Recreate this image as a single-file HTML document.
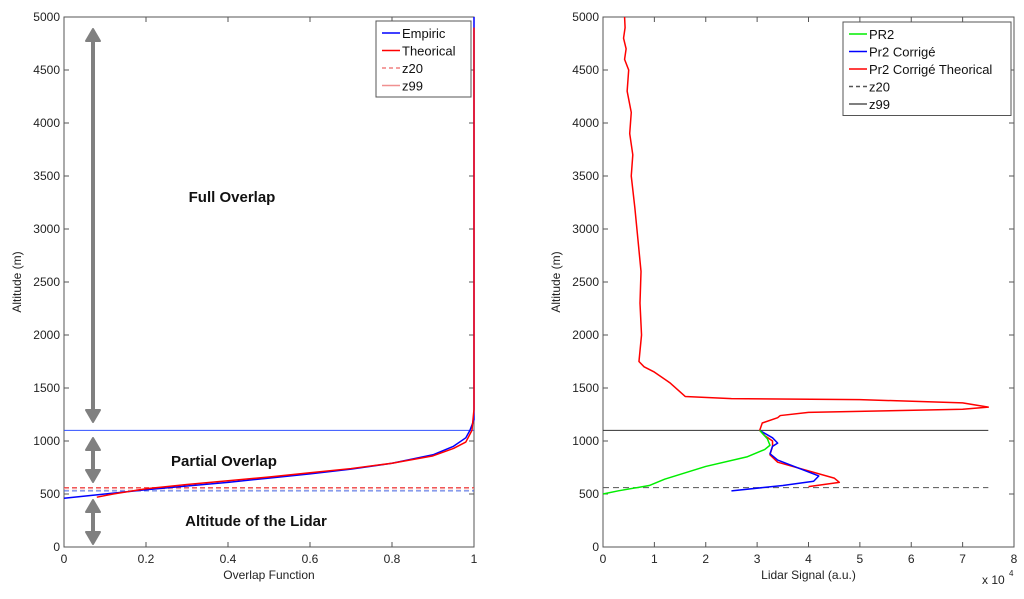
<!DOCTYPE html>
<html><head><meta charset="utf-8"><style>
body{margin:0;background:#fff;font-family:"Liberation Sans",sans-serif;}
svg text{font-family:"Liberation Sans",sans-serif;}
</style></head><body>
<svg id="c" width="1024" height="594" xmlns="http://www.w3.org/2000/svg"></svg>
<script>
const altTicks=[0,500,1000,1500,2000,2500,3000,3500,4000,4500,5000];
const leftXTicks=[0,0.2,0.4,0.6,0.8,1];
const rightXTicks=[0,1,2,3,4,5,6,7,8];
const empiricX=[0,0.05,0.1,0.2,0.3,0.4,0.5,0.6,0.7,0.8,0.9,0.95,0.98,0.99,1,1];
const empiricY=[460,480,500,540,575,610,650,690,735,790,870,950,1030,1100,1200,5000];
const theoX=[0.08,0.12,0.2,0.3,0.4,0.5,0.6,0.7,0.8,0.9,0.95,0.98,0.995,1,1];
const theoY=[470,500,550,590,625,660,700,740,790,860,930,990,1100,1300,4900];
const lines={z20r:560,z20p:550,z20b:530,z99b:1100};
const pr2X=[0,0.3,0.9,1.2,2,2.8,3.15,3.25,3.2,3.05];
const pr2Y=[500,530,580,640,760,850,920,960,1020,1100];
const corX=[2.5,3.5,4.1,4.2,3.4,3.25,3.3,3.4,3.3,3.05];
const corY=[530,580,620,670,820,880,950,980,1030,1100];
const theoSX=[4.0,4.3,4.6,4.5,3.4,3.25,3.3,3.3,3.15,3.05,3.1,3.4,3.45,4,7,7.5,7,5,2.5,1.6,1.3,1.0,0.8,0.7,0.75,0.72,0.74,0.68,0.62,0.55,0.58,0.52,0.55,0.47,0.5,0.42,0.45,0.4,0.43,0.42];
const theoSY=[570,590,610,650,800,870,950,1000,1050,1100,1170,1220,1240,1270,1300,1320,1360,1390,1400,1420,1550,1650,1700,1750,2000,2300,2600,2900,3200,3500,3700,3900,4100,4300,4500,4600,4700,4800,4900,5000];
const NS="http://www.w3.org/2000/svg";
const svg=document.getElementById('c');
function el(t,a,p){const e=document.createElementNS(NS,t);for(const k in a)e.setAttribute(k,a[k]);(p||svg).appendChild(e);return e;}
const yS=v=>547-v*(530/5000);
function axes(x0,x1,xmax,xt,xlab,name){
 const g=el('g',{});
 
 
 const xs=v=>x0+v/xmax*(x1-x0);
 el('rect',{x:x0,y:17,width:x1-x0,height:530,fill:'#fff',stroke:'#555','stroke-width':1},g);
 altTicks.forEach(t=>{const y=yS(t);el('line',{x1:x0,x2:x0+5,y1:y,y2:y,stroke:'#555'},g);el('line',{x1:x1,x2:x1-5,y1:y,y2:y,stroke:'#555'},g);
  const tx=el('text',{x:x0-4,y:y+4,'font-size':12,'text-anchor':'end',fill:'#222'},g);tx.textContent=t;});
 xt.forEach(t=>{const x=xs(t);el('line',{x1:x,x2:x,y1:547,y2:542,stroke:'#555'},g);el('line',{x1:x,x2:x,y1:17,y2:22,stroke:'#555'},g);
  const tx=el('text',{x:x,y:563,'font-size':12,'text-anchor':'middle',fill:'#222'},g);tx.textContent=t;});
 const xl=el('text',{x:(x0+x1)/2,y:579,'font-size':12,'text-anchor':'middle',fill:'#222'},g);xl.textContent=xlab;
 const yl=el('text',{x:0,y:0,'font-size':12,'text-anchor':'middle',fill:'#222',transform:`translate(${x0-43},282) rotate(-90)`},g);yl.textContent='Altitude (m)';
 return xs;
}
function poly(xs,X,Y,col,name,dash){const p=el('polyline',{points:X.map((v,i)=>xs(v)+','+yS(Y[i])).join(' '),fill:'none',stroke:col,'stroke-width':1.5,'stroke-dasharray':dash||'none','stroke-linejoin':'round'});return p;}
function hline(xs,xmax,v,col,name,dash){const l=el('line',{x1:xs(0),x2:xs(xmax),y1:yS(v),y2:yS(v),stroke:col,'stroke-width':1,'stroke-dasharray':dash||'none'});}
function legend(x,y,w,items,name){const g=el('g',{});
 el('rect',{x:x,y:y,width:w,height:items.length*17.5+6,fill:'#fff',stroke:'#555'},g);
 items.forEach((it,i)=>{const yy=y+12+i*17.5;el('line',{x1:x+6,x2:x+24,y1:yy,y2:yy,stroke:it[1],'stroke-width':1.5,'stroke-dasharray':it[2]||'none'},g);
  const t=el('text',{x:x+26,y:yy+5,'font-size':13,fill:'#111'},g);t.textContent=it[0];});}
// left
const lx=axes(64,474,1,leftXTicks,'Overlap Function','left-axes');
hline(lx,1,lines.z20r,'#f04040','z20-line-theoretical','5,3');
hline(lx,1,lines.z20p,'#f09090','z20-line-alt','5,3');
hline(lx,1,lines.z20b,'#4060e0','z20-line-empiric','5,3');
hline(lx,1,lines.z99b,'#3050ff','z99-line');
poly(lx,empiricX,empiricY,'#0000ff','empiric-line');
poly(lx,theoX,theoY,'#ff0000','theorical-line');
// arrows
function arrow(y1,y2,name){const g=el('g',{});
 el('line',{x1:93,x2:93,y1:y1+8,y2:y2-8,stroke:'#808080','stroke-width':4},g);
 el('polygon',{points:`86,${y1+12} 93,${y1} 100,${y1+12}`,fill:'#808080',stroke:'#808080','stroke-width':2,'stroke-linejoin':'round'},g);
 el('polygon',{points:`86,${y2-12} 93,${y2} 100,${y2-12}`,fill:'#808080',stroke:'#808080','stroke-width':2,'stroke-linejoin':'round'},g);}
arrow(29,422,'full-overlap-arrow');arrow(438,482,'partial-overlap-arrow');arrow(500,544,'lidar-altitude-arrow');
[['Full Overlap',232,202],['Partial Overlap',224,466],['Altitude of the Lidar',256,526]].forEach(a=>{const t=el('text',{x:a[1],y:a[2],'font-size':15,'font-weight':'bold','text-anchor':'middle',fill:'#111'});t.textContent=a[0];});
legend(376,21,95,[['Empiric','#0000ff'],['Theorical','#ff0000'],['z20','#f08080','4,3'],['z99','#f09090']],'left-legend');
// right
const rx=axes(603,1014,8,rightXTicks,'Lidar Signal (a.u.)','right-axes');
hline(rx,7.5,560,'#555','z20-line','6,4');
hline(rx,7.5,1100,'#333','z99-line');
poly(rx,theoSX,theoSY,'#ff0000','pr2-corrige-theorical-line');
poly(rx,corX,corY,'#0000ff','pr2-corrige-line');
poly(rx,pr2X,pr2Y,'#00ee00','pr2-line');
const ex=el('text',{x:982,y:584,'font-size':12,fill:'#222'});ex.textContent='x 10';
const ex2=el('text',{x:1009,y:576,'font-size':8,fill:'#222'});ex2.textContent='4';
legend(843,22,168,[['PR2','#00ee00'],['Pr2 Corrigé','#0000ff'],['Pr2 Corrigé Theorical','#ff0000'],['z20','#555','4,3'],['z99','#555']],'right-legend');
</script>
</body></html>
